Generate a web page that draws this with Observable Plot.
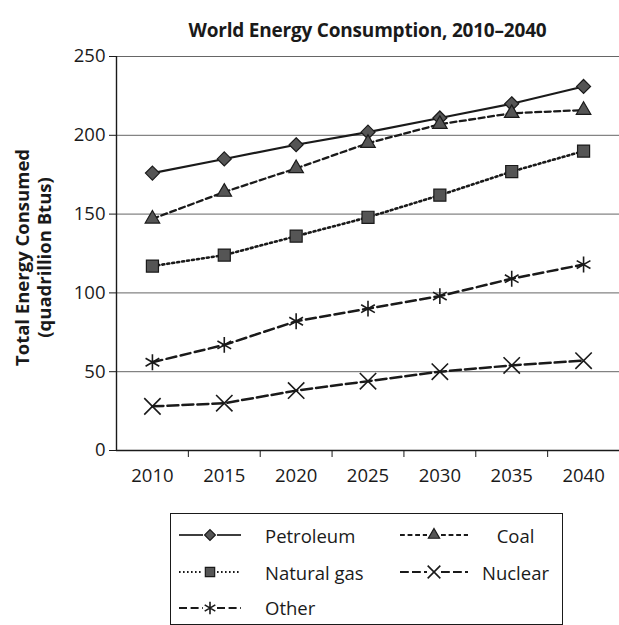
<!DOCTYPE html>
<html><head><meta charset="utf-8">
<script src="https://cdn.jsdelivr.net/npm/d3@7"></script>
<script src="https://cdn.jsdelivr.net/npm/@observablehq/plot@0.6"></script>
<style>
body{margin:0;background:#fff;font-family:"Open Sans",sans-serif;color:#1a1a1a;width:619px;height:625px;overflow:hidden}
#title{height:45px;box-sizing:border-box;padding:19px 0 0 116px;text-align:center;font-weight:700;font-size:19px;line-height:22px;letter-spacing:-0.2px}
#chart svg{display:block}
#legend{margin:18px 0 0 170px;width:393px;height:112px;box-sizing:border-box;border:1.5px solid #1a1a1a;padding:3px 0 0 8px;display:grid;grid-template-columns:62px 159px 70px 91px;grid-template-rows:36px 38px 33px;font-size:18.5px;align-items:center}
#legend .t1{padding-left:24px}
#legend .t2{text-align:center}
#legend svg{display:block}
</style></head><body>
<div id="title">World Energy Consumption, 2010–2040</div>
<div id="chart"></div>
<div id="legend"></div>
<script>
const years=[2010,2015,2020,2025,2030,2035,2040];
const petroleum=[176,185,194,202,211,220,231];
const coal=[147,164,179,195,207,214,216];
const naturalGas=[117,124,136,148,162,177,190];
const nuclear=[28,30,38,44,50,54,57];
const other=[56,67,82,90,98,109,118];
const yTicks=[0,50,100,150,200,250];
const yLabel="Total Energy Consumed\n(quadrillion Btus)";

const series=[
 {name:"Petroleum",values:petroleum,symbol:"diamond2",r:6.3,dash:null,width:2.1,fill:"#555",sw:1.2},
 {name:"Coal",values:coal,symbol:"triangle",r:5.4,dash:"6,3.5",width:2.3,fill:"#555",sw:1.2},
 {name:"Natural gas",values:naturalGas,symbol:"square",r:6.8,dash:"2,3",width:2.6,fill:"#555",sw:1.2},
 {name:"Nuclear",values:nuclear,symbol:"times",r:7.5,dash:"11,4",width:2.5,fill:"none",sw:1.6},
 {name:"Other",values:other,symbol:"asterisk",r:7.5,dash:"10,4.5",width:2.5,fill:"none",sw:1.6}
];

const xDom=[d3.min(years)-2.5,d3.max(years)+2.5];
const bounds=years.slice(0,-1).map(y=>y+2.5);
const ink="#1a1a1a";

const marks=[
 Plot.ruleY(yTicks.filter(d=>d>0),{stroke:"#555",strokeWidth:0.9}),
 Plot.ruleX([xDom[0]],{y1:0,y2:d3.max(yTicks),stroke:ink,strokeWidth:1.4}),
 Plot.ruleY([0],{stroke:ink,strokeWidth:1.6}),
 Plot.axisY({ticks:yTicks,tickSize:7,tickPadding:4,label:null,tickFormat:d=>String(d),fontSize:18.5}),
 Plot.axisX({ticks:bounds,tickSize:7,tickFormat:()=>"",label:null}),
 Plot.axisX({ticks:years,tickSize:0,tickPadding:18,tickFormat:d=>String(d),label:null,fontSize:18.5}),
 Plot.text([yLabel],{text:d=>d,frameAnchor:"left",textAnchor:"middle",lineAnchor:"middle",rotate:-90,dx:-84,dy:4,fontWeight:700,fontSize:18.5,lineHeight:1.2,fill:ink})
];
for(const s of series){
 const data=years.map((y,i)=>({year:y,value:s.values[i]}));
 marks.push(Plot.line(data,{x:"year",y:"value",stroke:ink,strokeWidth:s.width,strokeDasharray:s.dash}));
}
for(const s of series){
 const data=years.map((y,i)=>({year:y,value:s.values[i]}));
 marks.push(Plot.dot(data,{x:"year",y:"value",symbol:s.symbol,r:s.r,fill:s.fill,stroke:ink,strokeWidth:s.sw}));
}

const chart=Plot.plot({
 width:619,height:450,marginLeft:116,marginRight:0,marginTop:11,marginBottom:45,
 style:{fontFamily:"Open Sans",fontSize:"18.5px",color:ink,background:"white",overflow:"visible"},
 x:{type:"linear",domain:xDom},
 y:{domain:[0,d3.max(yTicks)]},
 marks
});
document.getElementById("chart").append(chart);

// legend
const order=["Petroleum","Coal","Natural gas","Nuclear","Other"];
const leg=d3.select("#legend");
const symMap={diamond2:d3.symbolDiamond2,triangle:d3.symbolTriangle,square:d3.symbolSquare,times:d3.symbolTimes,asterisk:d3.symbolAsterisk};
order.forEach((name,k)=>{
 const s=series.find(d=>d.name===name);
 const col=k%2;
 const w=col===0?62:68;
 const svg=leg.append("svg").attr("width",w).attr("height",20);
 const mid=col===0?31:34;
 const dash=s.dash?s.dash.split(",").map(v=>v*0.8).join(","):null;
 svg.append("line").attr("x1",0).attr("x2",mid-7).attr("y1",10).attr("y2",10)
   .attr("stroke",ink).attr("stroke-width",s.width*0.8).attr("stroke-dasharray",dash);
 svg.append("line").attr("x1",mid+7).attr("x2",w).attr("y1",10).attr("y2",10)
   .attr("stroke",ink).attr("stroke-width",s.width*0.8).attr("stroke-dasharray",dash);
 svg.append("path").attr("transform",`translate(${mid},10)`)
   .attr("d",d3.symbol(symMap[s.symbol],Math.PI*s.r*s.r*0.6)())
   .attr("fill",s.fill).attr("stroke",ink).attr("stroke-width",s.sw);
 leg.append("div").attr("class",col===0?"t1":"t2").text(name);
 if(name==="Other"){leg.append("div");leg.append("div");}
});
</script>
</body></html>
